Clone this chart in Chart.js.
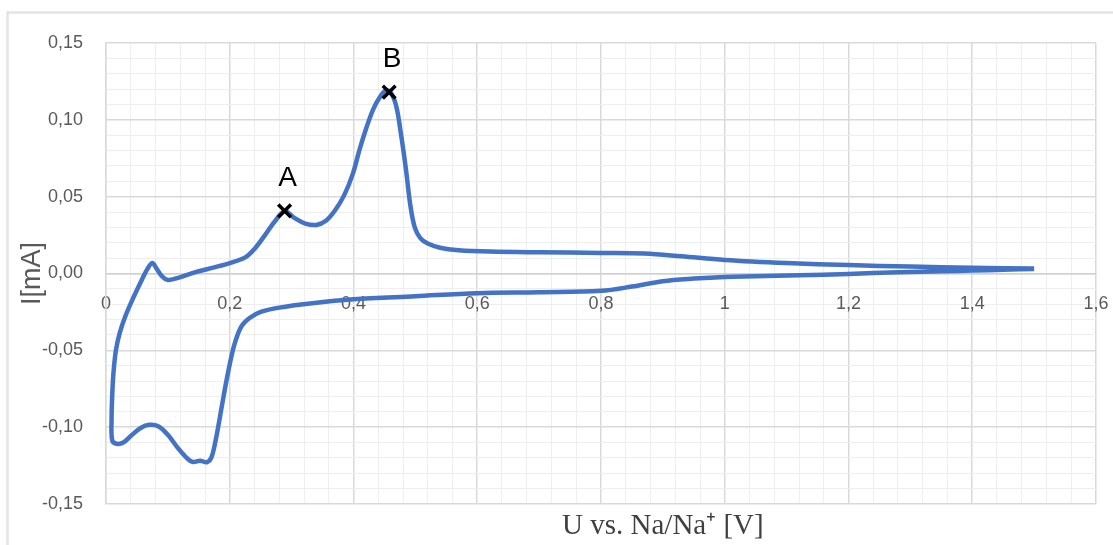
<!DOCTYPE html>
<html>
<head>
<meta charset="utf-8">
<script src="https://cdn.jsdelivr.net/npm/chart.js@4/dist/chart.umd.min.js"></script>
<style>
  html, body { margin: 0; padding: 0; background: #fff; }
  #wrap { width: 1113px; height: 545px; position: relative; }
</style>
</head>
<body>
<div id="wrap"><canvas id="cv"></canvas></div>
<script>
// CV loop: cathodic sweep 1.5 -> 0 V, then anodic back to 1.5 V
const voltage = [
  1.50, 1.45, 1.40, 1.35, 1.28, 1.20, 1.12, 1.05, 1.00, 0.95, 0.90, 0.85, 0.80, 0.70, 0.60,
  0.50, 0.40, 0.33, 0.28, 0.25, 0.232, 0.218, 0.207, 0.198, 0.190, 0.183, 0.176, 0.170,
  0.163, 0.152, 0.140, 0.128, 0.115, 0.100, 0.085, 0.070, 0.056, 0.042, 0.028, 0.017,
  0.010, 0.009, 0.010, 0.012, 0.016, 0.022, 0.032, 0.045, 0.058, 0.067, 0.075, 0.082,
  0.091, 0.100, 0.115, 0.146, 0.175, 0.200, 0.225, 0.240, 0.257, 0.273, 0.289, 0.305,
  0.322, 0.340, 0.356, 0.370, 0.385, 0.399, 0.410, 0.421, 0.432, 0.443, 0.452, 0.460,
  0.469, 0.477, 0.485, 0.492, 0.499, 0.508, 0.520, 0.540, 0.570, 0.62, 0.70, 0.80, 0.87,
  0.93, 1.00, 1.10, 1.20, 1.30, 1.40, 1.50
];
const current = [
  0.0030, 0.0024, 0.0019, 0.0015, 0.0008, -0.0003, -0.0012, -0.0018, -0.0022, -0.0033,
  -0.0050, -0.0085, -0.0113, -0.0122, -0.0128, -0.0148, -0.0168, -0.0195, -0.0222,
  -0.0250, -0.0290, -0.0350, -0.0470, -0.0630, -0.0800, -0.0960, -0.1110, -0.1200,
  -0.1228, -0.1218, -0.1226, -0.1190, -0.1130, -0.1050, -0.0995, -0.0985, -0.1005,
  -0.1050, -0.1100, -0.1108, -0.1085, -0.0950, -0.0800, -0.0650, -0.0500, -0.0390,
  -0.0270, -0.0150, -0.0040, 0.0030, 0.0068, 0.0030, -0.0020, -0.0042, -0.0030, 0.0010,
  0.0040, 0.0068, 0.0105, 0.0160, 0.0250, 0.0340, 0.0405, 0.0360, 0.0325, 0.0316,
  0.0345, 0.0410, 0.0510, 0.0650, 0.0810, 0.0950, 0.1070, 0.1150, 0.1190, 0.1180,
  0.1090, 0.0900, 0.0670, 0.0440, 0.0300, 0.0230, 0.0195, 0.0168, 0.0152, 0.0143,
  0.0138, 0.0134, 0.0130, 0.0112, 0.0088, 0.0068, 0.0055, 0.0045, 0.0038, 0.0032
];

// marked peaks
const peakNames = ['A', 'B'];
const peakVoltage = [0.2886, 0.4576];
const peakCurrent = [0.0407, 0.1180];

const xTitle = 'U vs. Na/Na\u207A [V]';
const yTitle = 'I[mA]';

function isMajor(v, step) {
  return Math.abs(v / step - Math.round(v / step)) < 1e-6;
}

// frame, axis titles and peak letters
const extras = {
  id: 'extras',
  beforeDraw(chart) {
    const ctx = chart.ctx;
    ctx.save();
    ctx.fillStyle = '#fff';
    ctx.fillRect(0, 0, chart.width, chart.height);
    ctx.strokeStyle = '#e3e3e3';
    ctx.lineWidth = 2.5;
    ctx.beginPath();
    ctx.moveTo(7.5, chart.height);
    ctx.lineTo(7.5, 12.5);
    ctx.lineTo(chart.width, 12.5);
    ctx.stroke();
    ctx.restore();
  },
  afterDraw(chart) {
    const ctx = chart.ctx;
    const xs = chart.scales.x, ys = chart.scales.y;
    const area = chart.chartArea;
    ctx.save();
    ctx.textAlign = 'center';
    ctx.textBaseline = 'middle';

    ctx.fillStyle = '#000';
    ctx.font = '28px "Liberation Sans"';
    peakNames.forEach((name, i) => {
      ctx.fillText(name, xs.getPixelForValue(peakVoltage[i]) + 3, ys.getPixelForValue(peakCurrent[i]) - 33);
    });

    ctx.fillStyle = '#404040';
    ctx.font = '29px "Liberation Serif"';
    ctx.fillText(xTitle, xs.getPixelForValue(0.9), area.bottom + 22);

    ctx.fillStyle = '#595959';
    ctx.font = '27px "Liberation Sans"';
    ctx.translate(33, ys.getPixelForValue(0));
    ctx.rotate(-Math.PI / 2);
    ctx.fillText(yTitle, 0, 0);
    ctx.restore();
  }
};

const tickFont = { family: 'Liberation Sans', size: 18 };

new Chart(document.getElementById('cv'), {
  type: 'scatter',
  data: {
    datasets: [
      {
        data: peakVoltage.map((v, i) => ({ x: v, y: peakCurrent[i] })),
        pointStyle: 'crossRot',
        pointRadius: 9,
        pointBorderWidth: 3.5,
        pointBorderColor: '#000',
        showLine: false
      },
      {
        data: voltage.map((v, i) => ({ x: v, y: current[i] })),
        showLine: true,
        borderColor: '#4472C4',
        borderWidth: 4.5,
        tension: 0.35,
        pointRadius: 0,
        fill: false
      }
    ]
  },
  options: {
    responsive: true,
    maintainAspectRatio: false,
    animation: false,
    events: [],
    layout: { padding: { left: 0, top: 43, right: 17, bottom: 41 } },
    plugins: { legend: { display: false }, tooltip: { enabled: false } },
    scales: {
      x: {
        type: 'linear',
        min: 0,
        max: 1.6,
        position: { y: 0 },
        afterFit: s => { s.paddingLeft = 0; s.paddingRight = 0; },
        ticks: {
          stepSize: 0.04,
          autoSkip: false,
          maxRotation: 0,
          padding: 20,
          color: '#595959',
          font: tickFont,
          callback: v => isMajor(v, 0.2) ? String(Number(v.toFixed(1))).replace('.', ',') : ''
        },
        grid: {
          drawTicks: false,
          color: c => isMajor(c.tick.value, 0.2) ? '#d9d9d9' : '#eeeeee',
          lineWidth: c => isMajor(c.tick.value, 0.2) ? 1.5 : 1
        },
        border: { display: true, color: '#d0d0d0', width: 1.5 }
      },
      y: {
        type: 'linear',
        min: -0.15,
        max: 0.15,
        position: 'left',
        afterFit: s => { s.width = 106; },
        ticks: {
          stepSize: 0.01,
          autoSkip: false,
          padding: 23,
          color: '#595959',
          font: tickFont,
          callback: v => isMajor(v, 0.05) ? v.toFixed(2).replace('.', ',') : ''
        },
        grid: {
          drawTicks: false,
          color: c => isMajor(c.tick.value, 0.05) ? '#d9d9d9' : '#eeeeee',
          lineWidth: c => isMajor(c.tick.value, 0.05) ? 1.5 : 1
        },
        border: { display: true, color: '#d9d9d9', width: 1.5 }
      }
    }
  },
  plugins: [extras]
});
</script>
</body>
</html>
